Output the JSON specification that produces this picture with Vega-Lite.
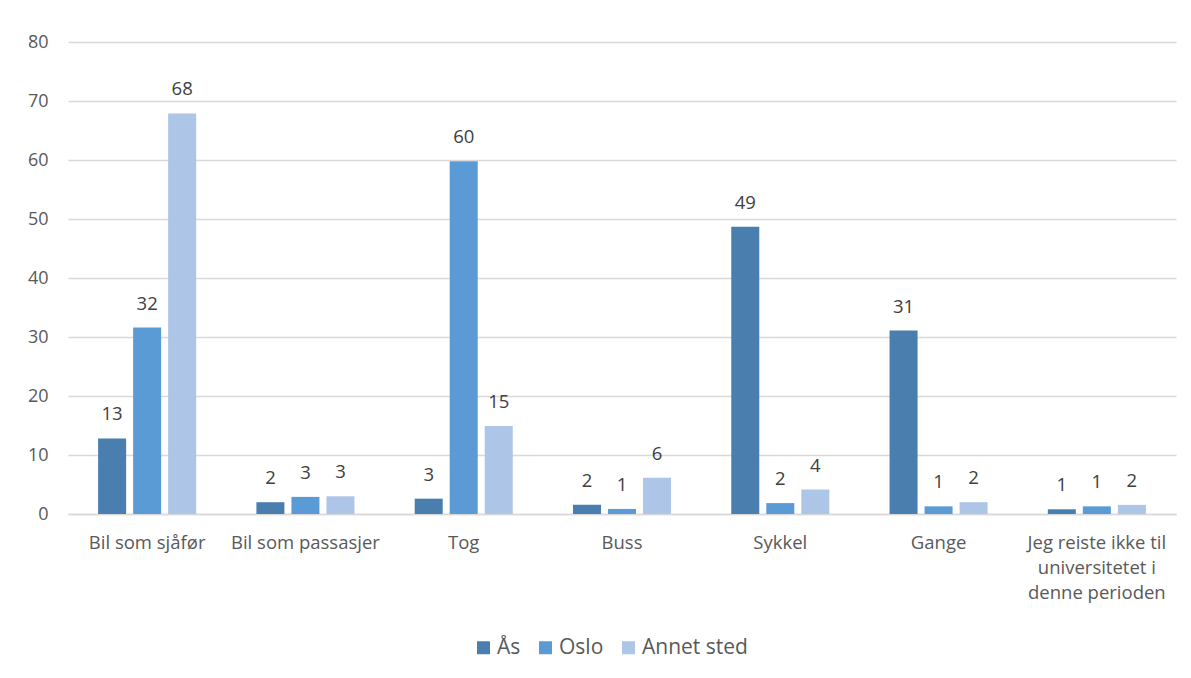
{
  "$schema": "https://vega.github.io/schema/vega-lite/v6.json",
  "width": 1108,
  "height": 472,
  "autosize": {"type": "none"},
  "padding": {"left": 68, "top": 42, "right": 15, "bottom": 164},
  "background": "white",
  "config": {"view": {"stroke": null}, "font": "Open Sans"},
  "data": {
    "values": [
      {"kategori": "Bil som sjåfør", "sted": "Ås", "verdi": 12.8},
      {"kategori": "Bil som sjåfør", "sted": "Oslo", "verdi": 31.6},
      {"kategori": "Bil som sjåfør", "sted": "Annet sted", "verdi": 67.9},
      {"kategori": "Bil som passasjer", "sted": "Ås", "verdi": 2.0},
      {"kategori": "Bil som passasjer", "sted": "Oslo", "verdi": 2.9},
      {"kategori": "Bil som passasjer", "sted": "Annet sted", "verdi": 3.0},
      {"kategori": "Tog", "sted": "Ås", "verdi": 2.6},
      {"kategori": "Tog", "sted": "Oslo", "verdi": 59.8},
      {"kategori": "Tog", "sted": "Annet sted", "verdi": 14.9},
      {"kategori": "Buss", "sted": "Ås", "verdi": 1.55},
      {"kategori": "Buss", "sted": "Oslo", "verdi": 0.86},
      {"kategori": "Buss", "sted": "Annet sted", "verdi": 6.15},
      {"kategori": "Sykkel", "sted": "Ås", "verdi": 48.7},
      {"kategori": "Sykkel", "sted": "Oslo", "verdi": 1.85},
      {"kategori": "Sykkel", "sted": "Annet sted", "verdi": 4.15},
      {"kategori": "Gange", "sted": "Ås", "verdi": 31.1},
      {"kategori": "Gange", "sted": "Oslo", "verdi": 1.3},
      {"kategori": "Gange", "sted": "Annet sted", "verdi": 2.0},
      {"kategori": "Jeg reiste ikke til universitetet i denne perioden", "sted": "Ås", "verdi": 0.8},
      {"kategori": "Jeg reiste ikke til universitetet i denne perioden", "sted": "Oslo", "verdi": 1.3},
      {"kategori": "Jeg reiste ikke til universitetet i denne perioden", "sted": "Annet sted", "verdi": 1.55}
    ]
  },
  "encoding": {
    "x": {
      "field": "kategori",
      "type": "nominal",
      "sort": ["Bil som sjåfør", "Bil som passasjer", "Tog", "Buss", "Sykkel", "Gange", "Jeg reiste ikke til universitetet i denne perioden"],
      "scale": {"paddingInner": 0, "paddingOuter": 0},
      "axis": {
        "title": null,
        "labelAngle": 0,
        "labelFontSize": 18.5,
        "labelColor": "#595959",
        "labelPadding": 19,
        "labelLineHeight": 25,
        "labelLimit": 300,
        "ticks": false,
        "domainColor": "#d9d9d9",
        "domainWidth": 1.5,
        "labelExpr": "datum.value == 'Jeg reiste ikke til universitetet i denne perioden' ? ['Jeg reiste ikke til', 'universitetet i', 'denne perioden'] : datum.value"
      }
    },
    "xOffset": {
      "field": "sted",
      "type": "nominal",
      "sort": ["Ås", "Oslo", "Annet sted"],
      "scale": {"paddingInner": 0.2, "paddingOuter": 0.86}
    },
    "y": {
      "field": "verdi",
      "type": "quantitative",
      "scale": {"domain": [0, 80]},
      "axis": {
        "title": null,
        "values": [0, 10, 20, 30, 40, 50, 60, 70, 80],
        "labelFontSize": 18,
        "labelColor": "#595959",
        "labelPadding": 20,
        "ticks": false,
        "domain": false,
        "gridColor": "#d9d9d9",
        "gridWidth": 1.5
      }
    }
  },
  "layer": [
    {
      "mark": {"type": "bar"},
      "encoding": {
        "color": {
          "field": "sted",
          "type": "nominal",
          "sort": ["Ås", "Oslo", "Annet sted"],
          "scale": {"domain": ["Ås", "Oslo", "Annet sted"], "range": ["#4a7eaf", "#5b9bd5", "#adc5e7"]},
          "legend": {
            "title": null,
            "orient": "none",
            "legendX": 405,
            "legendY": 595,
            "direction": "horizontal",
            "symbolType": "square",
            "symbolSize": 169,
            "symbolStrokeWidth": 0,
            "labelFontSize": 21,
            "labelColor": "#595959",
            "labelOffset": 3,
            "columnPadding": 14
          }
        }
      }
    },
    {
      "mark": {"type": "text", "dy": -18, "baseline": "alphabetic", "fontSize": 18.5, "color": "#404040"},
      "encoding": {
        "text": {"field": "verdi", "type": "quantitative", "format": ".0f"}
      }
    }
  ]
}
